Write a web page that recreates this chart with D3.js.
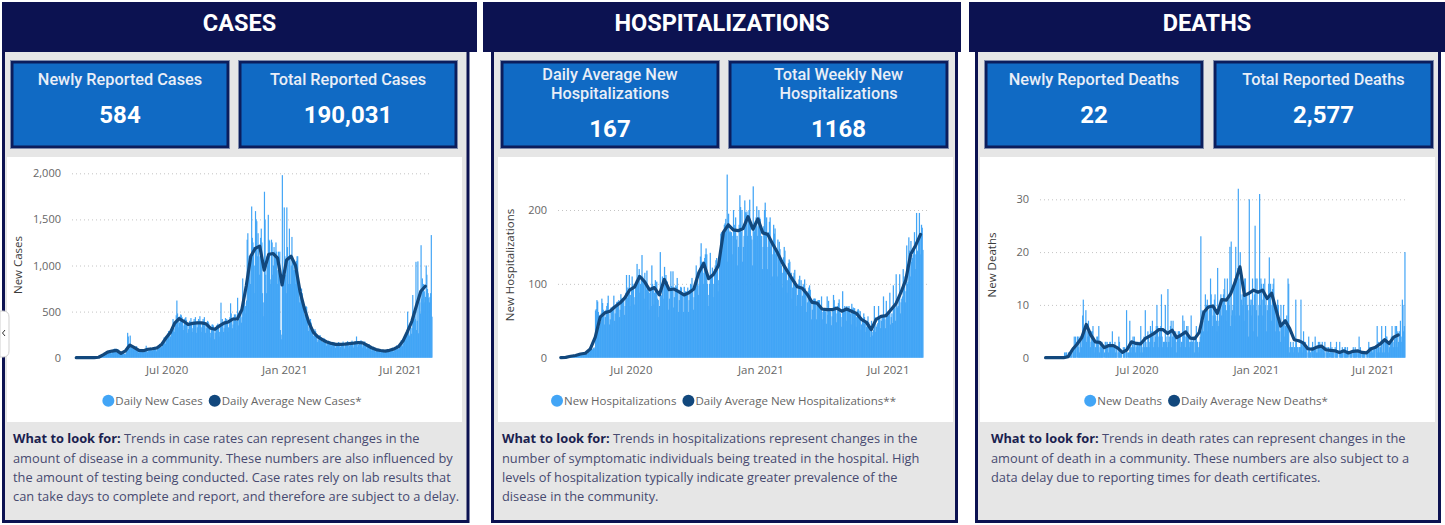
<!DOCTYPE html>
<html><head><meta charset="utf-8">
<script src="https://cdn.jsdelivr.net/npm/d3@7"></script>
<style>
html,body{margin:0;padding:0;background:#fff;}
svg{display:block;}
</style></head><body>
<svg id="dash" width="1445" height="525"></svg>
<script>
// ---------------- DATA ----------------
const xTickDates = ["2020-07-01", "2021-01-01", "2021-07-01"];

// CASES: daily values from 2020-02-07 (one row per week)
const casesStart = "2020-02-07";
const casesDaily = [
0,0,0,0,0,0,0, 0,0,0,0,0,0,0, 0,0,0,0,0,0,0, 0,0,0,0,0,0,0, 0,0,0,0,0,0,0,
0,0,0,2,5,10,18, 20,25,18,28,35,38,46, 55,60,42,50,68,72,75, 80,70,45,60,85,90,95,
100,85,55,65,80,90,85, 60,45,30,35,45,55,60, 50,40,30,45,65,120,270, 230,150,95,240,120,110,100,
120,110,80,95,115,120,125, 90,80,55,65,85,90,95, 85,75,50,60,80,90,92, 130,95,60,70,95,100,95,
110,95,65,80,105,110,115, 120,100,70,85,110,120,130, 150,135,100,115,150,165,175,
220,195,150,180,230,250,265, 290,260,200,230,290,310,320, 420,360,280,320,400,460,620,
480,430,330,380,450,470,460, 440,400,300,350,420,430,440, 410,360,270,310,380,400,390,
430,380,280,320,390,420,380, 440,390,270,330,400,420,400, 450,380,280,330,390,420,400,
440,370,270,320,380,400,390, 370,330,220,270,330,360,360, 350,310,200,270,330,350,350,
370,330,230,280,350,597,380, 420,380,280,320,400,430,400, 420,400,280,330,410,440,590,
480,430,320,360,440,470,440, 470,400,300,650,350,460,420, 500,480,380,440,860,560,620,
600,560,480,620,1280,1350,900, 1100,1000,800,1000,1640,1300,1250, 1200,1000,700,1590,1500,1480,1100,
1350,1200,900,1100,1300,1400,1250, 700,600,450,1800,1500,900,700, 1100,1000,1550,1280,1270,800,850,
1280,1250,900,1000,1200,1150,1130, 1250,1150,800,950,1150,1100,1150, 300,250,200,1980,800,900,1630,
1100,900,700,1630,1200,1100,800, 1400,1100,800,1000,1310,1100,950, 1050,950,800,950,1050,1100,1100,
850,800,600,650,700,750,700, 600,560,420,470,550,560,550, 440,400,290,330,400,420,380,
310,290,200,240,290,310,290, 250,240,170,190,240,240,245, 220,210,150,170,200,215,200,
195,180,130,150,175,185,175, 180,165,110,135,165,170,160, 165,150,105,125,155,160,155,
170,155,100,120,150,160,160, 175,160,100,125,150,165,161, 180,160,110,130,160,170,161,
185,170,110,135,165,180,161, 230,175,115,140,170,180,145, 190,170,110,135,165,175,175,
160,145,95,115,140,145,145, 125,115,75,95,115,120,111, 100,95,60,75,95,95,96,
90,85,55,65,85,85,81, 85,75,50,60,80,80,74, 95,85,55,65,85,90,85,
110,100,65,80,100,110,100, 135,125,85,100,130,140,125, 190,175,125,150,200,210,210,
260,240,180,500,310,250,234, 360,330,260,320,680,420,395, 450,420,1040,300,400,1045,265,
650,600,480,1220,640,860,590, 800,720,600,660,1000,900,745, 700,650,600,660,700,1330,445
];
// CASES: daily average, one point per week (mid-week)
const casesAvg = [0,0,0,0,0,5,30,60,72,80,47,75,137,110,80,76,92,97,105,140,210,270,375,425,395,360,372,378,378,368,320,308,345,375,388,420,420,520,780,1100,1185,1210,950,1120,1130,1080,790,1060,1100,1000,720,530,380,275,225,195,170,155,145,145,148,153,158,165,160,135,108,88,78,72,80,95,120,180,282,395,560,720,775];
const casesYTicks = [0, 500, 1000, 1500, 2000];

// HOSPITALIZATIONS: daily values from 2020-03-20
const hospStart = "2020-03-20";
const hospDaily = [
0,0,0,0,0,1,0, 0,1,0,0,1,1,1, 2,3,1,2,2,3,2, 4,3,2,4,5,3,4, 5,6,4,5,6,5,6, 6,7,5,6,7,6,5,
10,12,14,12,13,12,11, 13,14,12,64,66,78,76, 62,58,42,48,60,80,74, 65,60,45,55,65,70,74,
84,60,45,52,68,68,65, 70,84,50,60,72,75,76, 75,78,55,65,86,80,80, 80,78,58,70,88,112,81,
95,90,112,70,85,92,110, 100,95,72,82,98,105,127, 108,112,120,88,100,105,139, 110,105,80,115,100,92,118,
95,90,65,88,92,70,125, 100,95,72,88,105,102,103, 80,78,55,70,143,85,84, 110,105,80,123,108,112,104,
103,92,65,80,90,117,97, 95,117,68,82,95,98,96, 108,92,62,78,92,96,95, 88,85,62,96,88,90,86,
90,95,62,78,92,100,99, 108,92,65,82,95,105,125, 110,105,85,98,115,137,155, 130,128,100,115,135,140,148,
140,100,70,85,100,142,112, 110,122,82,100,120,125,132, 135,120,90,105,125,132,168, 170,165,145,160,180,182,188,
175,248,130,195,170,172,170, 170,165,140,200,180,176,190, 160,165,125,150,180,220,204, 170,200,130,150,165,213,197,
195,198,165,185,200,214,180, 165,160,125,232,180,171,185, 190,205,165,178,200,190,188, 160,165,120,150,178,200,210,
165,190,120,150,170,184,190, 150,155,110,140,180,168,175, 140,145,110,160,135,157,147, 130,125,95,115,136,150,145,
120,115,88,105,128,133,130, 108,115,80,95,110,115,119, 104,96,70,85,100,106,111, 95,105,70,84,98,100,106,
94,88,62,75,90,95,98, 92,78,52,65,78,80,80, 80,76,52,76,78,78,78, 68,65,83,52,62,66,66,
66,62,46,83,58,77,63, 64,62,44,56,66,85,78, 70,68,48,60,70,74,79, 62,60,42,55,90,66,66,
70,68,50,70,66,68,70, 62,60,45,73,66,68,67, 67,62,42,55,64,66,64, 55,63,38,45,52,51,60,
55,50,35,42,50,56,48, 45,40,28,50,30,35,38, 70,55,35,42,45,47,70, 56,52,40,50,55,56,83,
55,52,40,77,58,60,57, 62,88,45,55,60,47,98, 70,68,50,113,72,68,70, 85,113,60,75,80,83,120,
110,105,75,90,152,100,103, 163,145,110,158,130,135,139, 150,170,120,140,196,145,143, 165,196,140,165,180,176,146
];
const hospAvg = [0,0.5,2,3,5,6,12,28,55,61,63,69,74,81,92,96,110,103,92,95,85,106,92,93,89,85,88,93,115,128,107,113,125,170,180,173,172,175,191,174,188,169,167,154,142,128,117,106,96,94,86,75,74,66,65,65,67,63,66,63,60,52,48,38,52,56,57,65,73,88,105,140,152,167];
const hospYTicks = [0, 100, 200];

// DEATHS: daily values from 2020-02-07
const deathsStart = "2020-02-07";
const deathsDaily = [
0,0,0,0,0,0,0, 0,0,0,0,0,0,0, 0,0,0,0,0,0,0, 0,0,0,0,0,0,0, 0,0,0,0,1,0,1,
1,0,0,1,1,0,1, 1,1,0,2,2,4,1, 4,3,0,4,4,2,1, 4,4,2,4,8,11,4, 6,5,9,3,5,4,7,
4,5,2,3,5,5,6, 4,3,1,2,3,4,4, 3,6,1,2,3,2,3, 2,2,0,1,3,3,2, 3,2,1,2,3,3,2,
2,5,1,2,2,3,1, 2,2,0,1,4,3,1, 1,1,0,0,2,1,2, 0,1,9,1,0,1,1, 7,2,1,2,3,4,2,
4,3,1,2,3,3,3, 2,3,1,6,3,2,1, 3,4,2,9,3,2,2, 5,4,2,3,6,4,5, 7,5,2,3,5,4,6,
10,6,2,4,5,4,6, 12,4,2,3,3,3,10, 4,3,2,13,3,4,3, 6,7,2,4,7,5,5, 4,5,1,3,4,5,5,
5,4,2,3,3,8,5, 7,5,2,4,6,4,6, 4,3,2,3,8,3,3, 4,4,1,3,4,6,3, 3,2,1,3,4,23,5,
9,8,5,7,9,12,10, 10,11,5,7,9,10,15, 12,10,6,8,10,11,12, 8,7,5,17,6,7,9, 11,12,8,10,11,12,13,
15,10,7,9,15,10,11, 10,21,6,22,8,9,10, 14,15,8,21,15,14,17, 32,15,8,20,12,11,10, 12,12,7,15,15,10,12,
10,9,4,30,11,10,11, 8,15,5,10,12,25,15, 9,15,4,8,10,31,10, 15,14,8,11,14,13,15, 10,11,5,9,10,14,19,
12,14,7,10,13,14,15, 10,9,5,8,10,11,10, 6,5,3,10,6,6,6, 10,7,4,6,7,8,7, 15,14,1,2,3,2,2,
2,3,1,2,2,11,3, 2,2,1,2,2,2,11, 3,3,1,5,3,2,3, 2,2,0,1,4,2,1, 1,2,0,3,2,1,2,
4,2,1,2,1,3,1, 3,2,1,2,3,2,2, 1,3,0,1,2,1,2, 2,1,0,3,1,2,1, 1,1,0,2,1,3,1,
1,0,0,3,1,1,1, 2,1,0,1,2,2,1, 1,2,0,1,0,1,1, 1,1,0,2,1,1,2, 1,1,0,1,1,4,1,
2,1,0,1,1,1,1, 1,0,0,1,1,0,3, 2,2,1,2,2,1,2, 1,2,0,2,2,6,1, 3,2,1,2,3,6,1,
3,3,1,3,6,4,4, 3,3,1,2,3,3,4, 6,4,2,3,4,6,2, 6,5,2,3,5,5,7, 4,3,11,10,5,6,20
];
const deathsAvg = [0,0,0,0,0,0.2,1.6,2.6,3.8,6.3,4.3,3.0,2.9,1.9,2.3,2.3,1.8,1.0,1.5,3.0,2.7,2.6,3.6,4.1,4.6,5.3,5.3,4.6,5.2,3.8,4.3,4.9,3.7,3.6,4.8,8.6,9.6,9.8,8.4,11.0,10.9,12.2,14.5,17.2,11.8,12.2,12.8,12.4,12.8,11.2,12.2,9.0,6.0,7.0,5.5,3.4,3.2,2.8,1.7,1.6,2.0,2.2,1.5,1.4,1.3,1.0,1.3,0.9,1.2,1.3,1.0,0.9,1.7,2.0,2.6,3.4,2.7,3.9,4.3];
const deathsYTicks = [0, 10, 20, 30];

// Headline cards
const panelTitles = ["CASES", "HOSPITALIZATIONS", "DEATHS"];
const cardLabels = [
  [["Newly Reported Cases"], ["Total Reported Cases"]],
  [["Daily Average New", "Hospitalizations"], ["Total Weekly New", "Hospitalizations"]],
  [["Newly Reported Deaths"], ["Total Reported Deaths"]]
];
const cardValues = [["584", "190,031"], ["167", "1168"], ["22", "2,577"]];
const legendLabels = [
  ["Daily New Cases", "Daily Average New Cases*"],
  ["New Hospitalizations", "Daily Average New Hospitalizations**"],
  ["New Deaths", "Daily Average New Deaths*"]
];
const axisTitles = ["New Cases", "New Hospitalizations", "New Deaths"];
const notes = [
  ["Trends in case rates can represent changes in the",
   "amount of disease in a community. These numbers are also influenced by",
   "the amount of testing being conducted. Case rates rely on lab results that",
   "can take days to complete and report, and therefore are subject to a delay."],
  ["Trends in hospitalizations represent changes in the",
   "number of symptomatic individuals being treated in the hospital. High",
   "levels of hospitalization typically indicate greater prevalence of the",
   "disease in the community."],
  ["Trends in death rates can represent changes in the",
   "amount of death in a community. These numbers are also subject to a",
   "data delay due to reporting times for death certificates."]
];

// ---------------- STYLE / LAYOUT ----------------
const NAVY = "#0c1251", GRAYBG = "#e6e6e6", CARD = "#106ac4", CARDB = "#0b1d5c";
const BAR = "#42a5f6", LINE = "#12487d";
const F = "'Open Sans', 'Noto Sans', sans-serif";
const FC = "Roboto, 'Noto Sans', sans-serif";
const Y0 = 357.7;
const NOTE_REF_W = [407, 439, 441, 443];   // measured widths of the first panel's note lines

const layout = [
  {tx0:2, tx1:477, fx0:2, fx1:469.5, wx0:7, wx1:462,
   cards:[[10,230],[238,458]], noteX:13,
   x0:74, x1:432, yTop:173.3, gx0:72, gx1:430, ytX:18, legC:232, fmt:d3.format(",")},
  {tx0:483, tx1:961, fx0:491, fx1:958, wx0:498, wx1:953,
   cards:[[500,720],[728,949]], noteX:502,
   x0:558.3, x1:923, yTop:210, gx0:558, gx1:927, ytX:510, legC:723.5, fmt:d3.format("d")},
  {tx0:969, tx1:1445, fx0:975, fx1:1441, wx0:980, wx1:1435,
   cards:[[984,1204],[1213,1434]], noteX:991,
   x0:1043.3, x1:1405, yTop:199.3, gx0:1040, gx1:1405, ytX:991.7, legC:1206, fmt:d3.format("d")}
];
const series = [
  {start:casesStart, daily:casesDaily, avg:casesAvg, ticks:casesYTicks},
  {start:hospStart, daily:hospDaily, avg:hospAvg, ticks:hospYTicks},
  {start:deathsStart, daily:deathsDaily, avg:deathsAvg, ticks:deathsYTicks}
];

const svg = d3.select("#dash");
const parse = d3.utcParse("%Y-%m-%d");
const noteTexts = [];

layout.forEach((L, p) => {
  const g = svg.append("g");
  // frame
  g.append("rect").attr("x", L.fx0).attr("y", 48).attr("width", L.fx1 - L.fx0).attr("height", 475).attr("fill", NAVY);
  g.append("rect").attr("x", L.fx0 + 3).attr("y", 52).attr("width", L.fx1 - L.fx0 - 6).attr("height", 468).attr("fill", GRAYBG);
  // title bar
  g.append("rect").attr("x", L.tx0).attr("y", 2).attr("width", L.tx1 - L.tx0).attr("height", 50).attr("fill", NAVY);
  g.append("text").attr("x", (L.tx0 + L.tx1) / 2).attr("y", 30.7).attr("text-anchor", "middle")
    .attr("fill", "#fff").style("font-family", FC).style("font-weight", 700).style("font-size", "23.5px")
    .text(panelTitles[p]);
  // cards
  L.cards.forEach(([a, b], c) => {
    g.append("rect").attr("x", a + 0.5).attr("y", 60.5).attr("width", b - a - 1).attr("height", 88)
      .attr("fill", CARDB).attr("stroke", "#7f8bab").attr("stroke-width", 1);
    g.append("rect").attr("x", a + 3.5).attr("y", 63.5).attr("width", b - a - 7).attr("height", 82).attr("fill", CARD);
    const lines = cardLabels[p][c];
    const cx = (a + b) / 2;
    const two = lines.length > 1;
    lines.forEach((t, k) => {
      g.append("text").attr("x", cx).attr("y", two ? 80 + k * 19 : 85).attr("text-anchor", "middle")
        .attr("fill", "#e9eef7").style("font-family", FC).style("font-weight", 500).style("font-size", "16.3px").text(t);
    });
    g.append("text").attr("x", cx).attr("y", two ? 137.3 : 123.3).attr("text-anchor", "middle")
      .attr("fill", "#fff").style("font-family", FC).style("font-weight", 700).style("font-size", "24px")
      .text(cardValues[p][c]);
  });
  // white chart area
  g.append("rect").attr("x", L.wx0).attr("y", 157).attr("width", L.wx1 - L.wx0).attr("height", 265).attr("fill", "#fff");

  // ---------- chart ----------
  const S = series[p];
  const start = parse(S.start);
  const n = S.daily.length;
  const day = i => d3.utcDay.offset(start, i);
  const x = d3.scaleUtc().domain([start, day(n)]).range([L.x0, L.x1]);
  const yMax = S.ticks[S.ticks.length - 1];
  const y = d3.scaleLinear().domain([0, yMax]).range([Y0, L.yTop]);

  g.append("g").selectAll("line").data(S.ticks.filter(v => v > 0)).join("line")
    .attr("x1", L.gx0).attr("x2", L.gx1).attr("y1", d => y(d) + 0.5).attr("y2", d => y(d) + 0.5)
    .attr("stroke", "#c4c4c4").attr("stroke-width", 1).attr("stroke-dasharray", "1,3");

  // bars: slightly widened so neighbouring sub-pixel bars don't leave anti-aliasing seams
  g.append("g").attr("fill", BAR).selectAll("rect").data(S.daily).join("rect")
    .attr("x", (d, i) => x(day(i)))
    .attr("width", (d, i) => x(day(i + 1)) - x(day(i)) + 0.55)
    .attr("y", d => y(d))
    .attr("height", d => Y0 - y(d));

  const line = d3.line()
    .x((d, i) => x(d3.utcHour.offset(day(7 * i + 3), 12)))
    .y(d => y(d));
  g.append("path").datum(S.avg).attr("d", line).attr("fill", "none").attr("stroke", LINE)
    .attr("stroke-width", 3.2).attr("stroke-linejoin", "round").attr("stroke-linecap", "round");

  const yg = g.append("g").attr("transform", `translate(${L.gx0},0)`)
    .call(d3.axisLeft(y).tickValues(S.ticks).tickSize(0).tickPadding(11).tickFormat(L.fmt));
  yg.select(".domain").remove();
  yg.selectAll("text").attr("fill", "#666").style("font-family", F).style("font-size", "11px");

  const xg = g.append("g").attr("transform", `translate(0,${Y0})`)
    .call(d3.axisBottom(x).tickValues(xTickDates.map(parse)).tickSize(0).tickPadding(8.5)
      .tickFormat(d3.utcFormat("%b %Y")));
  xg.select(".domain").remove();
  xg.selectAll("text").attr("fill", "#666").style("font-family", F).style("font-size", "11.5px");

  g.append("text").attr("transform", `translate(${L.ytX + 4},265) rotate(-90)`).attr("text-anchor", "middle")
    .attr("fill", "#3b3b3b").style("font-family", F).style("font-size", "11.5px").text(axisTitles[p]);

  // legend
  const lg = g.append("g");
  let lx = 0;
  const cy = 400.7;
  legendLabels[p].forEach((lab, k) => {
    lg.append("circle").attr("cx", lx + 6).attr("cy", cy).attr("r", 6).attr("fill", k === 0 ? BAR : LINE);
    const t = lg.append("text").attr("x", lx + 13).attr("y", cy).attr("dy", "0.35em").attr("fill", "#666")
      .style("font-family", F).style("font-size", "11.5px").text(lab);
    lx += 13 + t.node().getComputedTextLength() + 6;
  });
  lg.attr("transform", `translate(${L.legC - (lx - 6) / 2},0)`);

  // notes
  notes[p].forEach((ln, k) => {
    const t = g.append("text").attr("x", L.noteX).attr("y", 443.3 + k * 19.3)
      .style("font-family", F).style("font-size", "11.8px").attr("fill", "#474a70");
    if (k === 0) {
      t.append("tspan").style("font-weight", 700).attr("fill", "#1b1f4f").text("What to look for: ");
    }
    t.append("tspan").text(ln);
    noteTexts.push({p, k, t});
  });
});

// one common horizontal condensation factor for all note text, calibrated on panel 1
const ratios = noteTexts.filter(o => o.p === 0).map(o => NOTE_REF_W[o.k] / o.t.node().getComputedTextLength());
const factor = d3.mean(ratios);
noteTexts.forEach(o => {
  const w = o.t.node().getComputedTextLength();
  o.t.attr("textLength", w * factor).attr("lengthAdjust", "spacingAndGlyphs");
});

// collapse tab at left edge
svg.append("path").attr("d", "M0,311 H3 Q9,311 9,317 V351 Q9,357 3,357 H0 Z")
  .attr("fill", "#fff").attr("stroke", "#cfcfcf").attr("stroke-width", 1);
svg.append("path").attr("d", "M5,330 L2.5,333 L5,336").attr("fill", "none").attr("stroke", "#333").attr("stroke-width", 1);
</script>
</body></html>
